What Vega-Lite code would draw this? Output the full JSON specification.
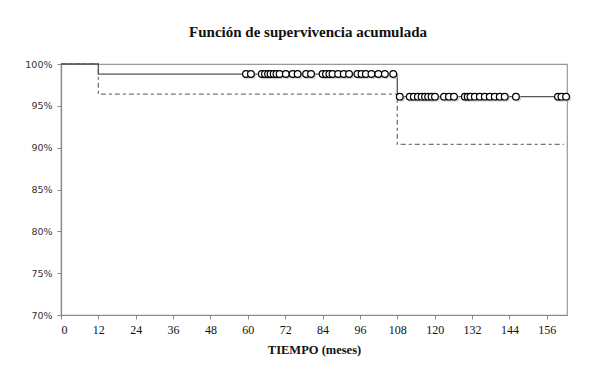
{
  "$schema": "https://vega.github.io/schema/vega-lite/v6.json",
  "width": 506,
  "height": 251,
  "autosize": "none",
  "padding": {"left": 61, "top": 64, "right": 23, "bottom": 59},
  "background": "white",
  "title": {
    "text": "Función de supervivencia acumulada",
    "font": "Liberation Serif",
    "fontSize": 15,
    "fontWeight": "bold",
    "color": "#111",
    "anchor": "middle",
    "dx": -6,
    "offset": 19
  },
  "config": {
    "view": {"stroke": "#999", "strokeWidth": 1.2},
    "axis": {"grid": false, "domainColor": "#888", "tickColor": "#888", "domainWidth": 1.2}
  },
  "datasets": {
    "curvas": [
      {"serie": "Supervivencia", "t": 0, "s": 1.0},
      {"serie": "Supervivencia", "t": 12, "s": 0.988},
      {"serie": "Supervivencia", "t": 108, "s": 0.961},
      {"serie": "Supervivencia", "t": 162.4, "s": 0.961},
      {"serie": "IC inferior", "t": 0, "s": 1.0},
      {"serie": "IC inferior", "t": 12, "s": 0.964},
      {"serie": "IC inferior", "t": 108, "s": 0.904},
      {"serie": "IC inferior", "t": 161.5, "s": 0.904}
    ],
    "censurados": [
      {"t": 59.4, "s": 0.988}, {"t": 61.0, "s": 0.988},
      {"t": 64.5, "s": 0.988}, {"t": 65.5, "s": 0.988}, {"t": 66.5, "s": 0.988},
      {"t": 67.3, "s": 0.988}, {"t": 68.3, "s": 0.988}, {"t": 69.2, "s": 0.988},
      {"t": 70.2, "s": 0.988}, {"t": 72.2, "s": 0.988}, {"t": 74.4, "s": 0.988},
      {"t": 76.0, "s": 0.988}, {"t": 78.7, "s": 0.988}, {"t": 80.3, "s": 0.988},
      {"t": 84.0, "s": 0.988}, {"t": 85.1, "s": 0.988}, {"t": 86.2, "s": 0.988},
      {"t": 87.2, "s": 0.988}, {"t": 89.0, "s": 0.988}, {"t": 90.8, "s": 0.988},
      {"t": 92.5, "s": 0.988}, {"t": 95.2, "s": 0.988}, {"t": 96.5, "s": 0.988},
      {"t": 97.9, "s": 0.988}, {"t": 99.7, "s": 0.988}, {"t": 101.9, "s": 0.988},
      {"t": 104.0, "s": 0.988}, {"t": 106.7, "s": 0.988},
      {"t": 108.8, "s": 0.961}, {"t": 112.0, "s": 0.961}, {"t": 113.3, "s": 0.961},
      {"t": 114.6, "s": 0.961}, {"t": 115.8, "s": 0.961}, {"t": 116.9, "s": 0.961},
      {"t": 117.9, "s": 0.961}, {"t": 119.0, "s": 0.961}, {"t": 120.1, "s": 0.961},
      {"t": 123.0, "s": 0.961}, {"t": 124.6, "s": 0.961}, {"t": 126.2, "s": 0.961},
      {"t": 129.7, "s": 0.961}, {"t": 130.6, "s": 0.961}, {"t": 131.5, "s": 0.961},
      {"t": 132.9, "s": 0.961}, {"t": 134.5, "s": 0.961}, {"t": 136.1, "s": 0.961},
      {"t": 137.7, "s": 0.961}, {"t": 139.3, "s": 0.961}, {"t": 140.9, "s": 0.961},
      {"t": 142.5, "s": 0.961}, {"t": 146.1, "s": 0.961},
      {"t": 159.6, "s": 0.961}, {"t": 160.7, "s": 0.961}, {"t": 162.2, "s": 0.961}
    ]
  },
  "encoding": {
    "x": {
      "field": "t",
      "type": "quantitative",
      "scale": {"domain": [0, 162.5], "nice": false, "zero": true},
      "axis": {
        "title": "TIEMPO (meses)",
        "values": [0, 12, 24, 36, 48, 60, 72, 84, 96, 108, 120, 132, 144, 156],
        "labelFont": "Liberation Serif",
        "labelFontSize": 12,
        "labelColor": "#111",
        "labelPadding": 5,
        "tickSize": 4,
        "titleFont": "Liberation Serif",
        "titleFontSize": 12.5,
        "titleFontWeight": "bold",
        "titleColor": "#111",
        "titlePadding": 8
      }
    },
    "y": {
      "field": "s",
      "type": "quantitative",
      "scale": {"domain": [0.7, 1.0], "nice": false, "zero": false},
      "axis": {
        "title": null,
        "values": [0.7, 0.75, 0.8, 0.85, 0.9, 0.95, 1.0],
        "format": ".0%",
        "labelFont": "DejaVu Sans",
        "labelFontSize": 9.5,
        "labelColor": "#333",
        "labelPadding": 5,
        "tickSize": 4
      }
    }
  },
  "layer": [
    {
      "data": {"name": "curvas"},
      "transform": [{"filter": "datum.serie === 'IC inferior'"}],
      "mark": {"type": "line", "interpolate": "step-after", "color": "#777", "strokeWidth": 1.3, "strokeDash": [5, 3, 3, 3]},
      "encoding": {}
    },
    {
      "data": {"name": "curvas"},
      "transform": [{"filter": "datum.serie === 'Supervivencia'"}],
      "mark": {"type": "line", "interpolate": "step-after", "color": "#555", "strokeWidth": 1.3},
      "encoding": {}
    },
    {
      "data": {"name": "censurados"},
      "mark": {"type": "point", "shape": "circle", "filled": true, "fill": "#bbb", "opacity": 0.6, "size": 55, "xOffset": 1.5, "yOffset": 1.5, "strokeWidth": 0},
      "encoding": {}
    },
    {
      "data": {"name": "censurados"},
      "mark": {"type": "point", "shape": "circle", "filled": true, "fill": "white", "stroke": "black", "strokeWidth": 1.2, "size": 45, "opacity": 1},
      "encoding": {}
    }
  ]
}
